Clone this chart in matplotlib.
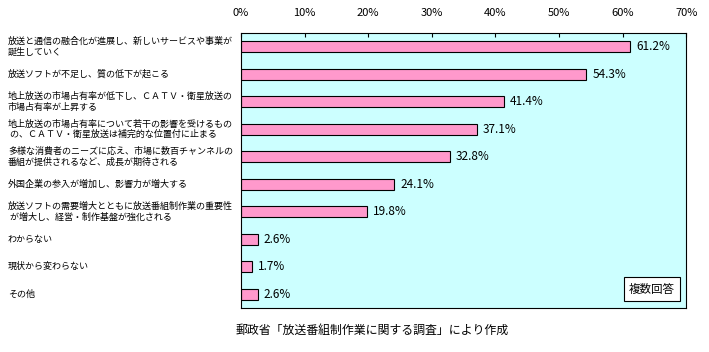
import numpy as np
import matplotlib.pyplot as plt

plt.rcParams['font.family'] = ['Noto Sans CJK JP', 'DejaVu Sans']

# 回答項目と割合(%)
labels = [
    "放送と通信の融合化が進展し、新しいサービスや事業が\n誕生していく",
    "放送ソフトが不足し、質の低下が起こる",
    "地上放送の市場占有率が低下し、ＣＡＴＶ・衛星放送の\n市場占有率が上昇する",
    "地上放送の市場占有率について若干の影響を受けるもの\n の、ＣＡＴＶ・衛星放送は補完的な位置付に止まる",
    "多様な消費者のニーズに応え、市場に数百チャンネルの\n番組が提供されるなど、成長が期待される",
    "外国企業の参入が増加し、影響力が増大する",
    "放送ソフトの需要増大とともに放送番組制作業の重要性\n が増大し、経営・制作基盤が強化される",
    "わからない",
    "現状から変わらない",
    "その他",
]
values = [61.2, 54.3, 41.4, 37.1, 32.8, 24.1, 19.8, 2.6, 1.7, 2.6]
xticks = [0, 10, 20, 30, 40, 50, 60, 70]

fig = plt.figure(figsize=(7.09, 3.52), dpi=100)
ax = fig.add_axes([0.340, 0.125, 0.628, 0.781])
ax.set_facecolor('#CCFFFF')

y = np.arange(len(values))
ax.barh(y, values, height=0.4, color='#FF99CC', edgecolor='black', linewidth=0.8)
ax.set_xlim(0, 70)
ax.set_ylim(len(values) - 0.5, -0.5)

# top axis ticks, pointing inward
ax.xaxis.tick_top()
ax.set_xticks(xticks)
ax.set_xticklabels([f"{t}%" for t in xticks], fontsize=8)
ax.tick_params(axis='x', direction='in', length=3, width=0.8, pad=11)
ax.set_yticks([])
for s in ax.spines.values():
    s.set_linewidth(0.8)

for yi, v in zip(y, values):
    ax.text(v + 0.9, yi, f"{v}%", va='center', ha='left', fontsize=8.5)

# left labels, placed in figure coordinates
for yi, lab in zip(y, labels):
    disp = ax.transData.transform((0, yi))
    fy = fig.transFigure.inverted().transform(disp)[1]
    fig.text(8 / 709, fy, lab, ha='left', va='center', fontsize=6.5, linespacing=1.2)

ax.text(0.975, 0.045, "複数回答", transform=ax.transAxes, ha='right', va='bottom',
        fontsize=8.3, bbox=dict(boxstyle='square,pad=0.45', facecolor='white', edgecolor='black', linewidth=0.8))

fig.text(372 / 709, 1 - 330 / 352, "郵政省「放送番組制作業に関する調査」により作成",
         ha='center', va='center', fontsize=8.6)

fig.savefig('out.png', dpi=100)
